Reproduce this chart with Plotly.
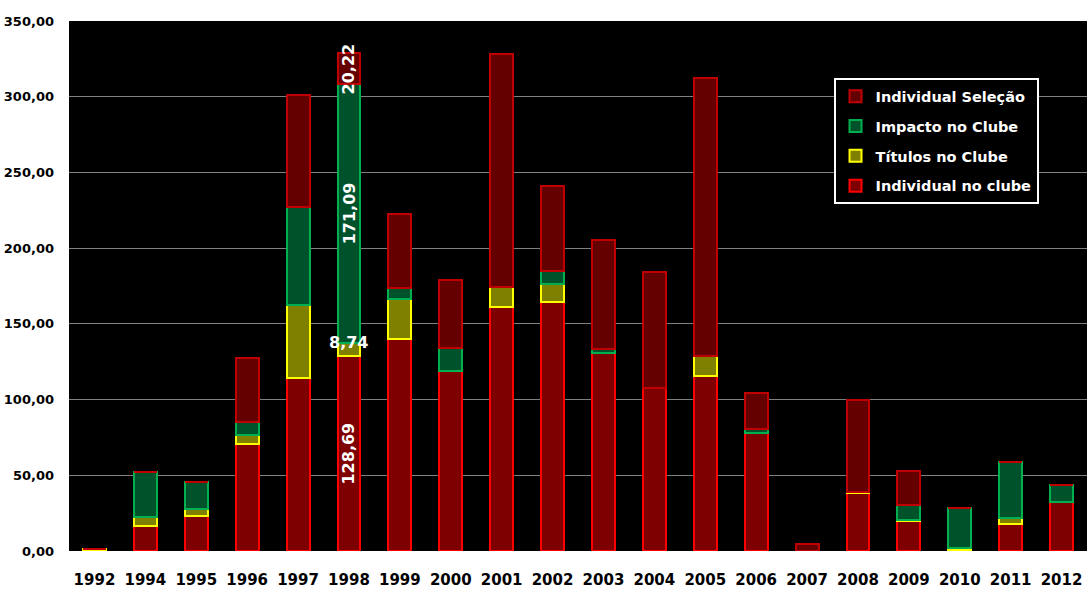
import plotly.graph_objects as go

years = ["1992", "1994", "1995", "1996", "1997", "1998", "1999", "2000", "2001", "2002",
         "2003", "2004", "2005", "2006", "2007", "2008", "2009", "2010", "2011", "2012"]

individual_clube = [0, 16.5, 23.3, 70.7, 114.3, 128.69, 140.0, 118.9, 161.4, 164.5,
                    130.8, 107.5, 115.6, 77.7, 0, 38.1, 19.8, 0.7, 17.8, 32.2]
titulos_clube = [1.5, 6.0, 4.2, 6.0, 48.2, 8.74, 26.4, 0, 13.0, 11.9,
                 0, 0, 13.2, 0, 0, 0.8, 1.0, 1.5, 4.2, 0]
impacto_clube = [0, 29.6, 18.3, 8.6, 64.7, 171.09, 7.3, 15.1, 0, 8.6,
                 2.6, 0, 0, 2.7, 0, 0, 9.4, 26.0, 37.0, 11.2]
individual_selecao = [0, 0, 0, 42.3, 74.0, 20.22, 48.9, 45.0, 153.5, 56.0,
                      72.0, 76.8, 183.6, 23.8, 4.5, 61.0, 22.8, 0, 0, 0]

series = [
    ("Individual no clube", individual_clube, "#7f0000", "#ff0000"),
    ("Títulos no Clube", titulos_clube, "#808000", "#ffff00"),
    ("Impacto no Clube", impacto_clube, "#00522a", "#00b050"),
    ("Individual Seleção", individual_selecao, "#650000", "#c00000"),
]

FONT = "DejaVu Sans"

fig = go.Figure()
n = len(series)
for k, (name, vals, fill, line) in enumerate(series):
    fig.add_trace(go.Bar(
        x=years, y=vals, name=name, legendgroup=name, legendrank=1000 + (n - k),
        marker=dict(color=fill, line=dict(color=line, width=2)),
    ))

# 1998 data labels
lbl_year = "1998"
i = years.index(lbl_year)
def fmt(v):
    return f"{v:.2f}".replace(".", ",")
base = 0
for name, vals, fill, line in series:
    v = vals[i]
    if name == "Títulos no Clube":
        fig.add_annotation(x=i, y=base + v, text=fmt(v), showarrow=False,
                           font=dict(color="white", size=16, family=FONT, weight="bold"),
                           yanchor="middle", xanchor="center")
    else:
        fig.add_annotation(x=i, y=base + v / 2, text=fmt(v), showarrow=False, textangle=-90,
                           font=dict(color="white", size=16, family=FONT, weight="bold"),
                           yanchor="middle", xanchor="center")
    base += v

fig.update_layout(
    width=1091, height=589,
    barmode="stack", bargap=0.55,
    paper_bgcolor="white", plot_bgcolor="black",
    margin=dict(l=69, r=4, t=21, b=38, autoexpand=False),
    separators=",.",
    showlegend=True,
    legend=dict(
        x=0.751, y=0.892, xanchor="left", yanchor="top",
        bgcolor="black", bordercolor="white", borderwidth=2,
        font=dict(color="white", size=14.5, family=FONT, weight="bold"),
        traceorder="grouped", tracegroupgap=8,
    ),
    font=dict(family=FONT, color="black"),
)
fig.update_yaxes(range=[0, 350], dtick=50, tickformat=".2f",
                 gridcolor="#808080", gridwidth=1, zeroline=False,
                 tickfont=dict(size=13, family=FONT, color="black", weight="bold"),
                 showline=False, ticks="", ticklabelstandoff=14, automargin=False)
fig.update_xaxes(tickfont=dict(size=15, family=FONT, color="black", weight="bold"),
                 showline=False, ticks="", type="category", range=[-0.5, len(years) - 0.5],
                 ticklabelstandoff=18, automargin=False)

fig.write_html("out.html")
